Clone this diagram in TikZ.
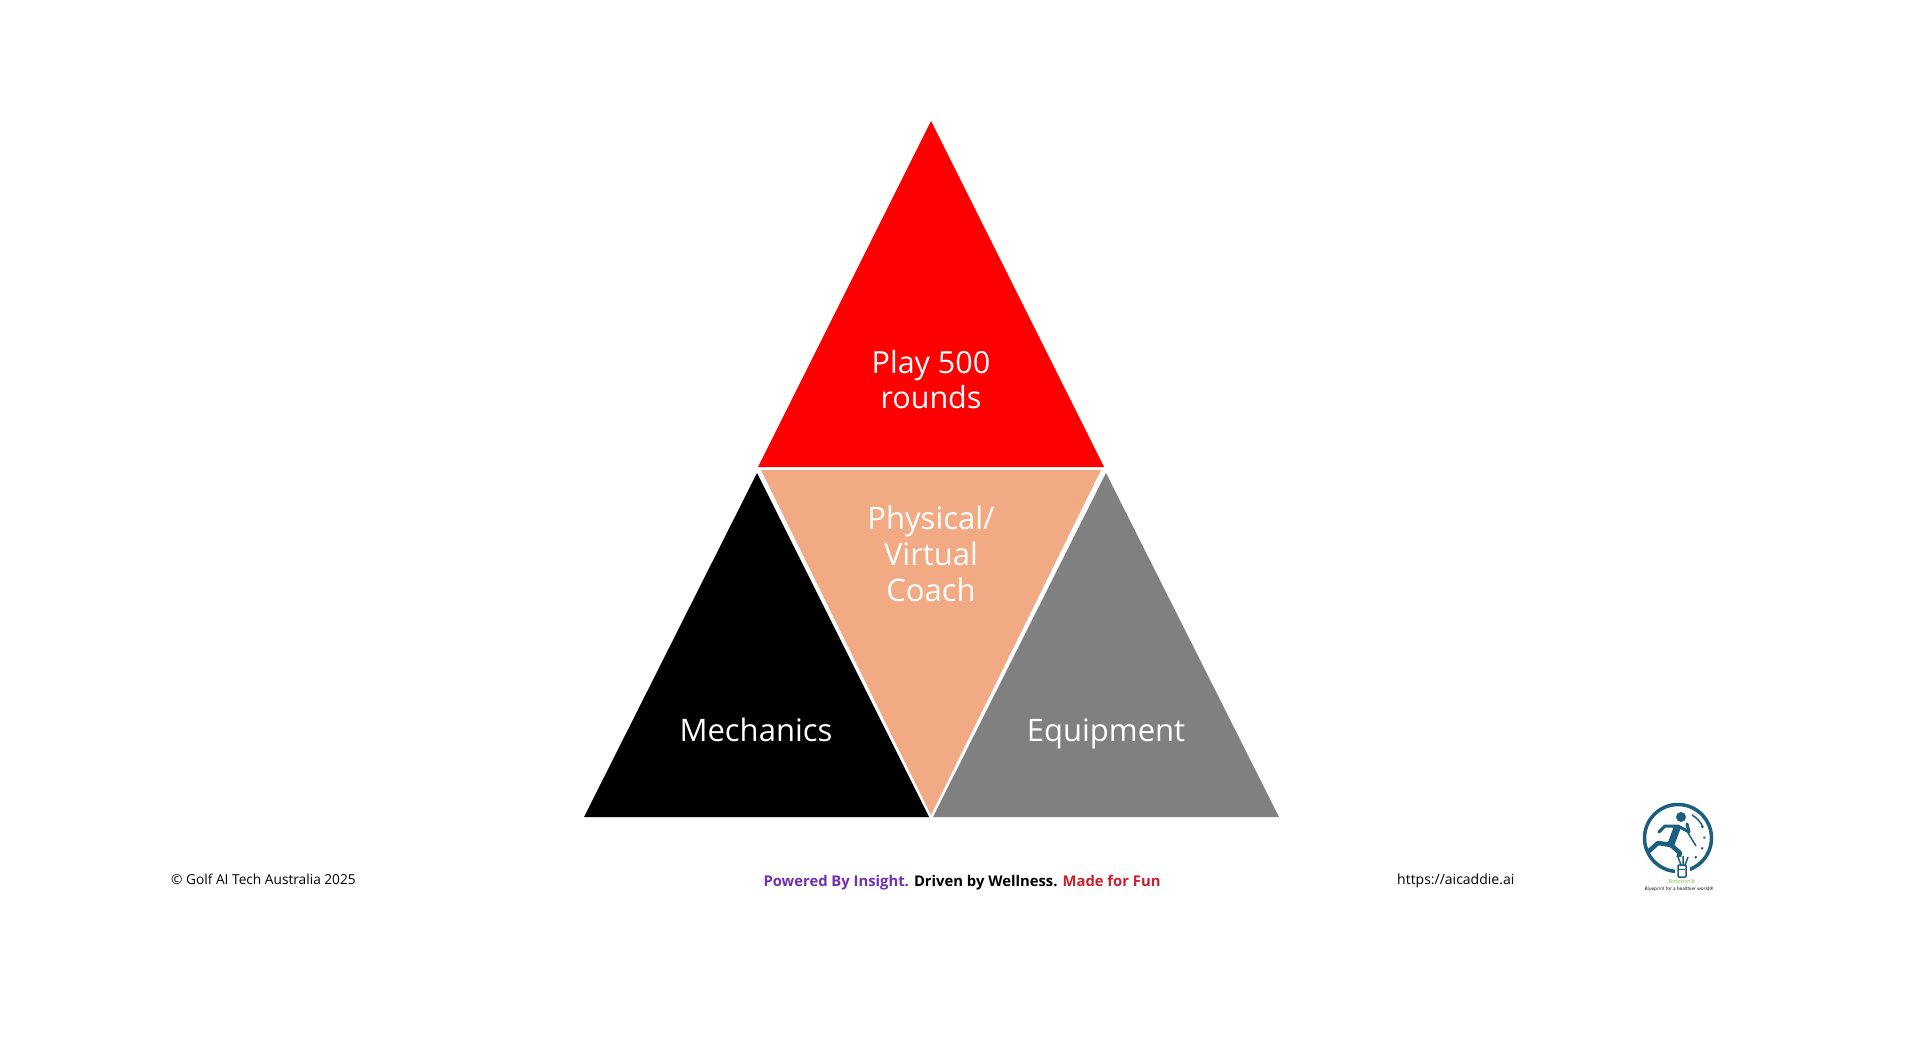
\documentclass[tikz,border=0pt]{standalone}
\usepackage{fontspec}
\setmainfont{Open Sans}
\usepackage{xcolor}
\definecolor{teal1}{HTML}{1B5E7E}
\definecolor{peach}{HTML}{F2AA84}
\definecolor{purple1}{HTML}{7030B0}
\definecolor{red1}{HTML}{C8202E}
\definecolor{green1}{HTML}{7DBE3C}
\tikzset{
  label big/.style={text=white,font=\fontsize{31}{36}\selectfont,align=center,inner sep=0pt},
  foot/.style={text=black,font=\fontsize{14}{16}\selectfont,inner sep=0pt},
  logo limb/.style={teal1,line join=round,line cap=round},
}
\begin{document}
\begin{tikzpicture}[x=1pt,y=-1pt]
      \useasboundingbox (0,0) rectangle (1920,1051);
      \fill[white] (0,0) rectangle (1920,1051);

      \coordinate (RT) at (931,121);
      \coordinate (RL) at (758,467);
      \coordinate (RR) at (1104,467);
      \coordinate (KT) at (757,473);
      \coordinate (KL) at (584,817);
      \coordinate (KR) at (929,817);
      \coordinate (GT) at (1106,473);
      \coordinate (GL) at (933,817);
      \coordinate (GR) at (1279,817);
      \coordinate (PL) at (761,470);
      \coordinate (PR) at (1101,470);
      \coordinate (PB) at (931,815);

      \fill[red] (RT) -- (RL) -- (RR) -- cycle;
      \fill[black] (KT) -- (KL) -- (KR) -- cycle;
      \fill[gray] (GT) -- (GL) -- (GR) -- cycle;
      \fill[peach] (PL) -- (PR) -- (PB) -- cycle;

      \node[label big,font=\fontsize{30.5}{35}\selectfont] (play) at (931,380) {Play 500\\rounds};
      \node[label big] (coach) at (931,554) {Physical/\\Virtual\\Coach};
      \node[label big,anchor=base] (mech) at (756,741) {Mechanics};
      \node[label big,anchor=base] (equip) at (1106,741) {Equipment};

      \node[foot,anchor=west,font=\fontsize{13.7}{16}\selectfont] (copy) at (171,879) {© Golf AI Tech Australia 2025};
      \node[foot,anchor=center,font=\fontsize{14.8}{16}\selectfont\bfseries] (motto) at (962,883)
        {\textcolor{purple1}{Powered By Insight.} Driven by Wellness. \textcolor{red1}{Made for Fun}};
      \node[foot,anchor=west] (url) at (1397,881) {https://aicaddie.ai};

      % logo
      \node[circle,draw=teal1,line width=3.5pt,minimum size=67pt,inner sep=0pt] (ring) at (1678,838) {};
      \draw[teal1,line width=1.5pt] (1692,815) arc (-60:-25:27);
      \draw[teal1,line width=2pt,dash pattern=on 2pt off 9pt] (1702,826) arc (-25:50:27);
      \draw[teal1,line width=1.5pt] (1688,833) -- (1696,846);
      \fill[teal1] (1681,817) circle (5);
      \draw[logo limb,line width=7pt] (1677,828) -- (1671,844);
      \draw[logo limb,line width=4.5pt] (1671,845) -- (1658,843) -- (1649,851);
      \draw[logo limb,line width=4.5pt] (1671,845) -- (1680,853) -- (1677,862);
      \draw[logo limb,line width=3pt] (1678,826) -- (1689,832) -- (1687,824);
      \draw[logo limb,line width=3pt] (1676,826) -- (1665,826) -- (1659,832);
      \draw[white,fill=white] (1675,857) rectangle (1689,880);
      \draw[teal1,line width=1.5pt] (1678,857) -- (1681,865) (1683,856) -- (1683,865) (1688,857) -- (1685,865);
      \draw[teal1,fill=white,line width=1.5pt,rounded corners=1pt] (1678,865) rectangle (1686,877);
      \draw[teal1,line width=1pt] (1679,869) -- (1685,869);
      \node[inner sep=0pt,text=green1,font=\fontsize{5.5}{6}\selectfont] (brand) at (1682,882) {Bmotion®};
      \node[inner sep=0pt,text=black,font=\fontsize{4.6}{5}\selectfont] (slogan) at (1679,889) {Blueprint for a healthier world®};
    \end{tikzpicture}
\end{document}
